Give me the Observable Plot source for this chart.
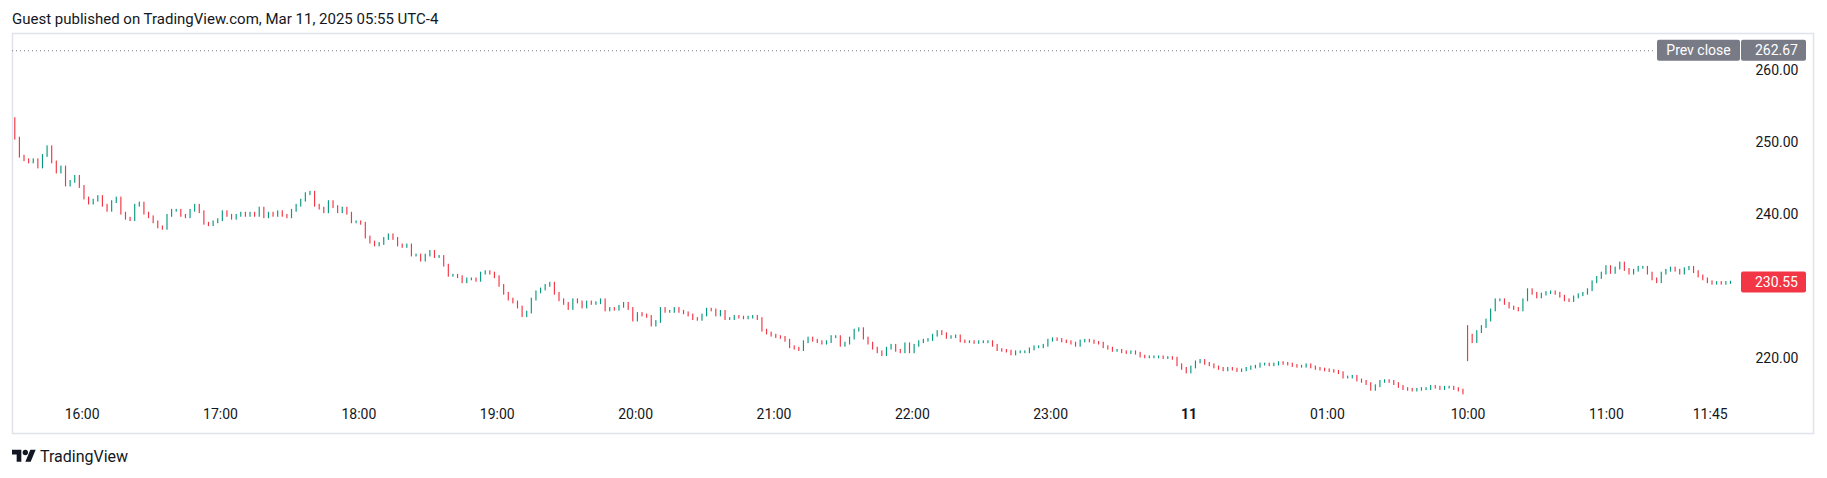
<!DOCTYPE html>
<html>
<head>
<meta charset="utf-8">
<script src="https://cdn.jsdelivr.net/npm/d3@7"></script>
<script src="https://cdn.jsdelivr.net/npm/@observablehq/plot@0.6"></script>
<style>
  body { margin: 0; background: #fff; width: 1827px; height: 478px; position: relative; overflow: hidden; }
  #title { position: absolute; left: 12px; top: 12px; font: 15px Roboto, sans-serif; line-height: 15px; color: #131722; }
  #chart { position: absolute; left: 0; top: 32px; }
  #footer { position: absolute; left: 12px; top: 447px; display: flex; align-items: center; font: 16px Roboto, sans-serif; color: #131722; }
  #footer svg { margin-right: 4px; }
</style>
</head>
<body>
<div id="title">Guest published on TradingView.com, Mar 11, 2025 05:55 UTC-4</div>
<div id="chart"></div>
<div id="footer">
  <svg width="24" height="19" viewBox="0 0 36 28"><path d="M14 22H7V11H0V4h14v18zM28 22h-8l7.5-18h8L28 22z" fill="#131722"/><circle cx="20" cy="8" r="4" fill="#131722"/></svg>
  <span>TradingView</span>
</div>
<script>
// 2-minute closes, overnight session 15:31 -> 01:59 (slot = minutes since 15:31)
const overnightOpen = 253.2
const overnightClose = [
  250.5,248.0,247.5,247.2,247.5,246.5,248.1,249.3,247.2,245.8,
  246.5,244.0,244.5,245.2,243.8,242.2,241.5,241.9,242.4,241.2,
  240.5,241.7,242.2,240.1,239.4,239.2,241.2,241.5,240.1,239.6,
  238.9,238.2,238.0,239.8,240.5,240.5,239.8,239.6,240.5,241.2,
  240.3,238.7,238.5,238.9,239.2,240.3,239.8,239.4,239.8,240.1,
  239.8,240.1,239.8,240.8,239.6,240.1,239.8,240.3,239.8,239.6,
  240.5,241.2,241.9,242.8,243.0,241.2,240.8,240.3,241.7,241.0,
  240.3,240.8,240.1,238.9,238.9,238.7,236.8,236.1,235.7,235.9,
  236.6,237.1,236.6,235.7,235.5,235.7,234.3,234.3,233.6,234.3,
  234.8,234.1,234.1,232.9,231.5,231.5,231.3,230.6,231.0,231.0,
  230.8,231.8,232.0,231.8,231.3,230.1,229.0,228.2,227.8,227.1,
  225.9,226.4,228.2,229.2,229.6,230.1,230.4,229.0,228.1,227.6,
  226.9,228.1,227.8,227.1,227.8,227.6,227.7,228.1,226.7,226.9,
  226.8,227.2,227.6,226.9,225.3,226.2,226.0,225.8,224.6,225.1,
  226.9,226.5,226.5,226.9,226.5,226.3,226.0,225.5,225.4,226.0,
  226.8,226.7,226.0,226.5,225.5,225.5,225.8,225.7,225.6,225.7,
  225.8,225.5,223.9,223.5,223.2,223.0,222.9,222.5,221.6,221.4,
  221.2,222.3,222.8,222.5,222.3,222.1,222.3,223.0,223.0,221.8,
  222.1,222.8,223.9,224.1,222.8,222.1,221.4,220.9,220.5,221.4,
  221.8,221.1,220.9,222.0,220.9,221.8,222.3,222.5,222.6,223.2,
  223.7,223.4,222.9,223.0,223.1,222.4,222.3,222.3,222.2,222.3,
  222.3,222.3,221.8,221.2,221.1,221.0,220.6,220.9,220.9,220.9,
  221.3,221.6,221.6,221.8,222.5,222.7,222.6,222.4,222.3,222.1,
  221.8,222.4,222.5,222.4,222.2,222.1,221.6,221.4,221.1,221.1,
  220.9,220.8,220.9,220.7,220.3,220.2,220.2,220.2,220.2,220.1,
  220.1,220.0,219.1,218.6,218.1,218.8,219.5,219.7,219.3,219.1,
  218.8,218.6,218.4,218.6,218.5,218.3,218.4,218.6,218.8,218.9,
  219.2,219.2,219.1,219.2,219.4,219.3,219.2,219.0,218.9,218.9,
  219.1,218.8,218.6,218.5,218.4,218.3,218.2,218.0,217.4,217.4,
  217.5,217.0,216.8,216.5,215.7,216.2,216.8,216.9,216.8,216.5,
  216.1,215.8,215.7,215.6,215.7,215.8,215.8,216.1,216.0,215.8,
  216.0,216.0,215.8,215.6,215.2
]

// 2-minute closes, regular session 10:00 -> 11:54
const sessionOpen = 224.4
const sessionLow = 219.8
const sessionClose = [
  223.2,222.3,223.7,224.4,225.3,226.7,228.1,228.1,227.6,227.1,
  226.9,226.7,228.1,229.5,229.0,228.5,228.9,229.1,229.2,229.0,
  228.6,228.1,228.0,228.5,228.8,229.0,229.5,230.6,231.2,231.8,
  232.7,231.9,232.5,233.2,232.3,231.8,232.2,232.6,232.6,231.8,
  231.0,230.6,231.8,232.2,232.5,232.2,231.8,232.4,232.6,232.0,
  231.4,231.0,230.6,230.4,230.5,230.4,230.5,230.55
]
const sessionStart = 630

const prevClose = 262.67
const lastPrice = 230.55

const timeTicks = [29, 89, 149, 209, 269, 329, 389, 449, 509, 569, 630, 690, 735]
const timeLabels = ['16:00','17:00','18:00','19:00','20:00','21:00','22:00','23:00','11','01:00','10:00','11:00','11:45']
const dayTick = 509
const priceTicks = [220, 240, 250, 260]

const up = '#089981'
const down = '#f23645'

let bars = []
overnightClose.forEach((c, k) => {
  let o = k === 0 ? overnightOpen : overnightClose[k - 1]
  bars.push({s: 2 * k, o, c, hi: Math.max(o, c), lo: Math.min(o, c)})
})
sessionClose.forEach((c, j) => {
  let o = j === 0 ? sessionOpen : sessionClose[j - 1]
  let lo = j === 0 ? Math.min(o, c, sessionLow) : Math.min(o, c)
  bars.push({s: sessionStart + 2 * j, o, c, hi: Math.max(o, c), lo})
})

const labelOf = new Map(timeTicks.map((t, i) => [t, timeLabels[i]]))

const chart = Plot.plot({
  width: 1827,
  height: 403,
  marginLeft: 12,
  marginRight: 14,
  marginTop: 1,
  marginBottom: 2,
  x: {domain: [-1.21, 779.8]},
  y: {domain: [209.65, 265.06]},
  style: {fontFamily: 'Roboto, sans-serif', fontSize: '14px', color: '#131722', background: 'transparent'},
  marks: [
    Plot.frame({stroke: '#e0e3eb', strokeWidth: 1.5}),
    Plot.ruleY([prevClose], {stroke: '#787b86', strokeDasharray: '1,3', insetRight: 160}),
    Plot.rect(bars, {
      x1: d => d.s - 0.25,
      x2: d => d.s + 0.25,
      y1: 'lo',
      y2: 'hi',
      insetTop: -1.4,
      insetBottom: -1.4,
      fill: d => d.c >= d.o ? up : down,
    }),
    Plot.axisX(timeTicks.filter(t => t !== dayTick), {
      anchor: 'bottom', tickSize: 0, tickPadding: 0, dy: -24,
      tickFormat: d => labelOf.get(d), label: null,
    }),
    Plot.axisX([dayTick], {
      anchor: 'bottom', tickSize: 0, tickPadding: 0, dy: -24, fontWeight: 'bold',
      tickFormat: d => labelOf.get(d), label: null,
    }),
    Plot.axisY(priceTicks, {
      anchor: 'right', tickSize: 0, tickPadding: 0, dx: -15, textAnchor: 'end',
      tickFormat: d => d.toFixed(2), label: null,
    }),
  ],
})

d3.select('#chart').append(() => chart)

// price tags on the right edge, placed through the y scale
const ys = chart.scale('y')
const right = 1827 - 14
const svg = d3.select(chart)
function tag(v, x0, x1, fill, text, anchor) {
  let y = ys.apply(v)
  svg.append('rect')
    .attr('x', right - x0).attr('y', y - 10.5)
    .attr('width', x0 - x1).attr('height', 21)
    .attr('rx', 2).attr('fill', fill)
  svg.append('text')
    .attr('x', anchor === 'end' ? right - 15 : right - (x0 + x1) / 2)
    .attr('y', y).attr('dy', '0.35em')
    .attr('text-anchor', anchor)
    .attr('fill', '#fff')
    .attr('font-size', 14)
    .text(text)
}
tag(prevClose, 156, 73, '#787b86', 'Prev close', 'middle')
tag(prevClose, 72, 7, '#787b86', prevClose.toFixed(2), 'end')
tag(lastPrice, 72, 7, down, lastPrice.toFixed(2), 'end')
</script>
</body>
</html>
